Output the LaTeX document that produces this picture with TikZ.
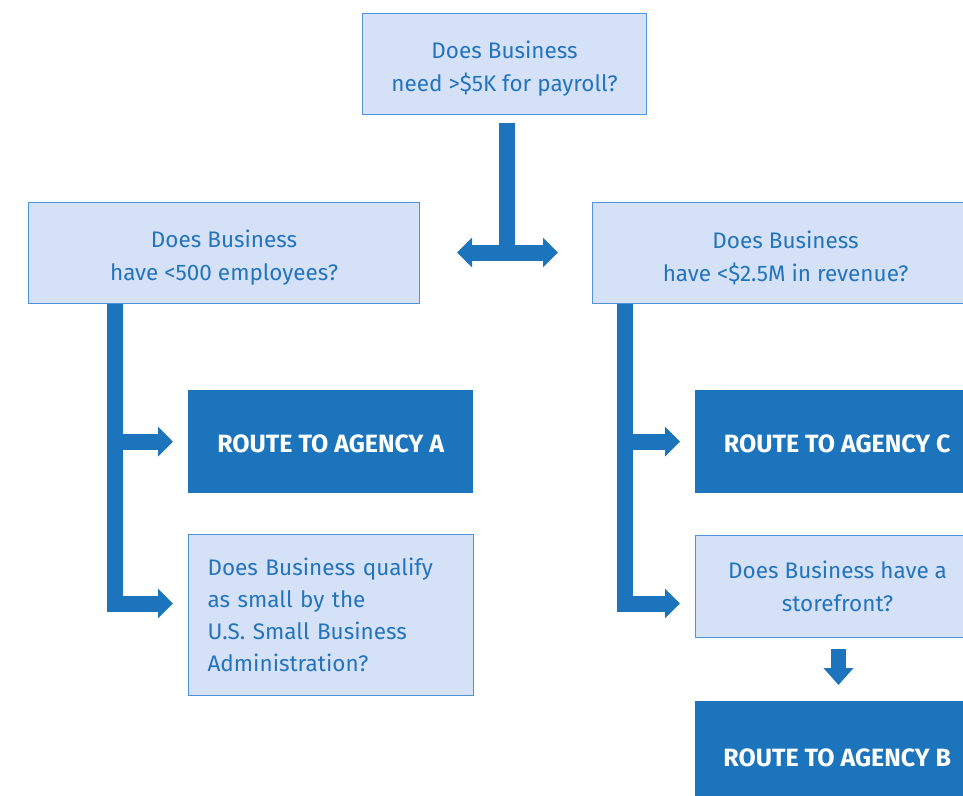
\documentclass[tikz,border=0pt]{standalone}
\usepackage{fontspec}
\setmainfont{Fira Sans}
\usetikzlibrary{arrows.meta,calc}
\definecolor{qfill}{HTML}{D5E1F7}
\definecolor{qline}{HTML}{4F93D8}
\definecolor{qtext}{HTML}{2474BC}
\definecolor{route}{HTML}{1C75BC}
% taller first line, so the text sits a little lower in its box
\newcommand\qstrut{\rule{0pt}{27pt}}
\newcommand\rstrut{\rule{0pt}{22pt}}
\begin{document}
\begin{tikzpicture}[x=1pt,y=-1pt,
  question/.style={draw=qline, line width=1.2pt, fill=qfill, text=qtext,
    font=\fontsize{22.5}{33}\selectfont, align=center, inner sep=0pt, anchor=north west},
  routebox/.style={fill=route, text=white, font=\bfseries\fontsize{25}{28}\selectfont,
    inner sep=0pt, anchor=north west},
  conn/.style={draw=route, line width=16pt, line join=miter},
  head/.style={-{Triangle[width=29pt,length=15pt]}},
]
\useasboundingbox (0,0) rectangle (963,795);
\clip (0,0) rectangle (963,795);

% decision boxes
\node[question, minimum width=284pt, minimum height=101pt] (q1) at (362,13)
  {\qstrut Does Business\\need >\$5K for payroll?};
\node[question, minimum width=391pt, minimum height=101pt] (q2) at (28,202)
  {\qstrut Does Business\\have <500 employees?};
\node[question, minimum width=386pt, minimum height=101pt] (q3) at (592,202)
  {\qstrut Does Business\\have <\$2.5M in revenue?};
\node[question, minimum width=285pt, minimum height=161pt, text width=247pt, align=left,
  font=\fontsize{22.5}{32}\selectfont] (q4) at (188,534)
  {Does Business qualify\\as small by the\\U.S. Small Business\\Administration?};
\node[question, minimum width=284pt, minimum height=102pt] (q5) at (695,535)
  {Does Business have a\\storefront?};

% outcome boxes
\node[routebox, minimum width=285pt, minimum height=103pt] (ra) at (188,390) {\rstrut ROUTE TO AGENCY A};
\node[routebox, minimum width=284pt, minimum height=103pt] (rc) at (695,390) {\rstrut ROUTE TO AGENCY C};
\node[routebox, minimum width=284pt, minimum height=110pt] (rb) at (695,701) {\rstrut ROUTE TO AGENCY B};

% split below the first question
\coordinate (hub) at (507,252.5);
\coordinate (lt) at (457,252.5);
\coordinate (rt) at (558,252.5);
\draw[conn] ($(q1.south -| hub)+(0,8)$) -- ($(hub)+(0,7.5)$);
\draw[conn, {Triangle[width=29pt,length=15pt]}-{Triangle[width=29pt,length=15pt]}] (lt) -- (rt);

% left branch
\coordinate (lspine) at (114.5,603.5);
\draw[conn, head] (q2.south -| lspine) -- (lspine) -- ($(lspine -| q4.west)+(-15,0)$);
\draw[conn, head] (lspine |- ra) -- ($(ra.west)+(-15,0)$);

% right branch
\coordinate (rspine) at (625,603.5);
\draw[conn, head] (q3.south -| rspine) -- (rspine) -- ($(rspine -| q5.west)+(-15,0)$);
\draw[conn, head] (rspine |- rc) -- ($(rc.west)+(-15,0)$);

% storefront to agency B
\coordinate (dn) at (838.5,0);
\draw[conn, line width=15pt, -{Triangle[width=29pt,length=17pt]}]
  ($(q5.south -| dn)+(0,11)$) -- ($(rb.north -| dn)+(0,-16)$);
\end{tikzpicture}
\end{document}
